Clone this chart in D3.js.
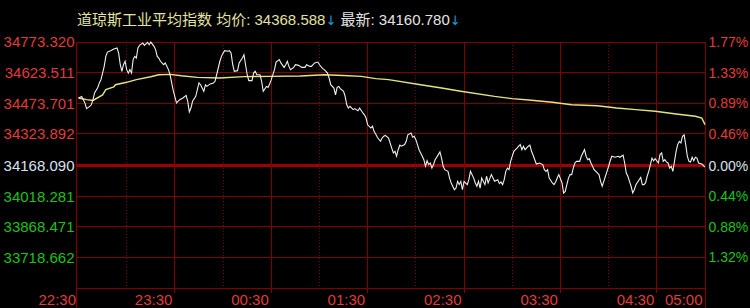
<!DOCTYPE html>
<html>
<head>
<meta charset="utf-8">
<script src="https://cdn.jsdelivr.net/npm/d3@7/dist/d3.min.js"></script>
<style>
  html, body { margin: 0; padding: 0; background: #000; }
  svg { display: block; }
  text { font-family: "Liberation Sans", Arial, "Noto Sans CJK SC", sans-serif; }
  .arrow { font-family: "DejaVu Sans", sans-serif; }
</style>
</head>
<body>
<div id="chart"></div>
<script>
'use strict';

// price axis labels (top to bottom), and the percent labels next to them
var priceLabels = ['34773.320', '34623.511', '34473.701', '34323.892', '34168.090', '34018.281', '33868.471', '33718.662'];
var pctLabels = ['1.77%', '1.33%', '0.89%', '0.46%', '0.00%', '0.44%', '0.88%', '1.32%'];
var prevClose = 34168.090;
var priceLow = 33568.852;
var priceHigh = 34773.320;

// time axis, minutes from 22:30
var hourTicks = [0, 60, 120, 180, 240, 300, 360, 390];
var hourLabels = ['22:30', '23:30', '00:30', '01:30', '02:30', '03:30', '04:30', '05:00'];
var halfTicks = [30, 90, 150, 210, 270, 330];

// header
var title = '道琼斯工业平均指数';
var avgPrice = '34368.588';
var lastPrice = '34160.780';

// price line (minute, value)
var priceMin = [0, 2, 3, 4, 5, 7, 8, 9, 10, 12, 13, 14, 15, 16, 17, 18, 20, 22, 24, 25, 26, 27, 28, 29, 30, 31, 32, 33, 34, 35, 36, 37, 38, 40, 41, 43, 44, 45, 47, 48, 49, 50, 51, 53, 54, 56, 57, 58, 59, 61, 63,
  65, 67, 68, 69, 70, 71, 73, 74, 75, 76, 77, 78, 79, 80, 82, 84, 85, 86, 88, 89, 90, 91, 93, 94, 95, 96, 97, 99, 100, 102, 103, 104, 105, 106, 108, 109, 110, 111, 113, 114, 115, 117, 118, 119, 120, 122, 123, 125, 126, 128,
  129, 130, 131, 132, 134, 135, 137, 139, 141, 142, 144, 145, 147, 149, 150, 152, 153, 155, 156, 157, 159, 160, 161, 162, 163, 165, 166, 167, 168, 169, 171, 172, 174, 175, 177, 178, 179, 180, 182, 183, 184, 185, 186, 188, 189, 190, 191, 193,
  195, 196, 197, 198, 199, 200, 201, 203, 204, 205, 207, 208, 209, 210, 211, 212, 213, 214, 215, 216, 217, 218, 219, 220, 221, 222, 224, 225, 226, 227, 228, 230, 231, 232, 234, 235, 236, 237, 238, 239, 240, 242, 243, 244, 246, 247, 248, 249, 250, 251, 253, 254, 255, 257,
  259, 261, 262, 263, 264, 265, 266, 267, 268, 269, 271, 272, 273, 274, 275, 276, 277, 278, 280, 281, 282, 283, 284, 285, 287, 289, 290, 291, 292, 293, 295, 296, 297, 298, 299, 301, 302, 303, 304, 305, 306, 307, 308, 309, 310, 312, 313, 315, 316, 317, 318, 319, 321,
  324, 325, 326, 327, 328, 329, 330, 331, 332, 334, 336, 337, 339, 340, 341, 342, 343, 344, 345, 346, 347, 349, 350, 351, 352, 353, 354, 355, 356, 357, 358, 359, 361, 362, 363, 364, 365, 366, 367, 368, 369, 370, 371, 372, 373, 374, 375, 376, 377, 378, 379, 380, 381, 382, 383, 384, 385, 386, 388, 390];
var priceVal = [34499, 34507, 34491, 34475, 34447, 34458, 34466, 34491, 34524, 34551, 34573, 34589, 34621, 34654, 34703, 34724, 34731, 34739, 34744, 34719, 34662, 34630, 34662, 34679, 34638, 34621, 34638, 34621, 34687, 34703, 34695, 34744, 34757, 34768, 34757, 34772, 34760, 34773, 34752, 34736, 34703, 34695, 34679, 34662, 34671, 34638, 34613, 34573, 34535, 34475, 34491,
  34499, 34512, 34483, 34431, 34450, 34483, 34507, 34540, 34573, 34564, 34548, 34532, 34564, 34556, 34568, 34573, 34581, 34613, 34679, 34703, 34719, 34731, 34728, 34731, 34719, 34662, 34630, 34633, 34671, 34695, 34711, 34662, 34613, 34584, 34584, 34621, 34630, 34613, 34613, 34581, 34532, 34556, 34551, 34568, 34589, 34638, 34675, 34687, 34671, 34649,
  34662, 34679, 34654, 34638, 34649, 34662, 34659, 34649, 34649, 34662, 34654, 34654, 34671, 34675, 34662, 34643, 34638, 34621, 34597, 34564, 34548, 34515, 34551, 34556, 34545, 34532, 34507, 34466, 34450, 34458, 34442, 34447, 34437, 34450, 34426, 34417, 34401, 34368, 34352, 34361, 34336, 34323, 34307, 34287, 34303, 34312, 34316, 34303,
  34254, 34230, 34238, 34214, 34246, 34268, 34263, 34271, 34287, 34319, 34328, 34307, 34312, 34295, 34271, 34246, 34230, 34214, 34197, 34165, 34192, 34173, 34181, 34156, 34173, 34197, 34222, 34235, 34205, 34165, 34148, 34140, 34107, 34083, 34050, 34058, 34091, 34075, 34091, 34050, 34091, 34075, 34099, 34140, 34107, 34083, 34067, 34091, 34058, 34107, 34075, 34116, 34083, 34124,
  34091, 34099, 34080, 34088, 34075, 34099, 34140, 34156, 34148, 34189, 34238, 34246, 34254, 34263, 34271, 34246, 34263, 34246, 34263, 34268, 34238, 34219, 34197, 34176, 34181, 34173, 34148, 34140, 34148, 34107, 34083, 34075, 34088, 34107, 34124, 34083, 34034, 34042, 34075, 34107, 34124, 34124, 34156, 34181, 34189, 34189, 34214, 34246, 34214, 34197, 34202, 34181, 34148,
  34124, 34091, 34067, 34091, 34116, 34140, 34165, 34192, 34214, 34209, 34214, 34209, 34219, 34181, 34132, 34116, 34091, 34067, 34034, 34050, 34075, 34099, 34111, 34075, 34075, 34083, 34116, 34140, 34173, 34205, 34192, 34202, 34181, 34222, 34230, 34189, 34197, 34186, 34181, 34156, 34165, 34140, 34189, 34238, 34271, 34287, 34279, 34312, 34319, 34271, 34214, 34189, 34186, 34209, 34192, 34209, 34205, 34181, 34176, 34160.78];

// average price line (minute, value)
var avgMin = [0, 5, 9, 15, 17, 22, 23, 30, 36, 45, 50, 57, 64, 74, 88, 103, 119, 138, 153, 165, 176, 185, 193, 213, 226, 238, 259, 270, 282, 295, 307, 323, 335, 347, 359, 372, 384, 388, 390];
var avgVal = [34499, 34491, 34487, 34514, 34540, 34554, 34564, 34576, 34589, 34603, 34613, 34615, 34608, 34600, 34597, 34604, 34605, 34607, 34613, 34609, 34605, 34594, 34589, 34564, 34548, 34532, 34507, 34496, 34488, 34478, 34466, 34461, 34450, 34442, 34434, 34421, 34410, 34401, 34368.588];

var width = 750, height = 308;
var plotLeft = 76.5, plotRight = 705.5, plotTop = 42, plotBottom = 288;

var gridColor = '#800000';
var upColor = '#e23a3a';
var downColor = '#18c418';
var flatColor = '#d6e2ee';

var x = d3.scaleLinear().domain([0, 390]).range([78.5, 705]);
var y = d3.scaleLinear().domain([priceLow, priceHigh]).range([plotBottom, plotTop]);

function crisp(v) { return Math.round(v - 0.5) + 0.5; }

var svg = d3.select('#chart').append('svg')
  .attr('width', width)
  .attr('height', height);

svg.append('rect')
  .attr('width', width)
  .attr('height', height)
  .attr('fill', '#000');

var grid = svg.append('g').attr('shape-rendering', 'crispEdges');

// horizontal grid rows
grid.selectAll('line.row')
  .data(priceLabels.map(Number).concat([priceLow]))
  .enter().append('line')
  .attr('class', 'row')
  .attr('x1', plotLeft)
  .attr('x2', plotRight)
  .attr('y1', function (d) { return crisp(y(d)); })
  .attr('y2', function (d) { return crisp(y(d)); })
  .attr('stroke', gridColor)
  .attr('stroke-width', 1);

// previous close, thick line
grid.append('line')
  .attr('x1', plotLeft)
  .attr('x2', plotRight)
  .attr('y1', crisp(y(prevClose)))
  .attr('y2', crisp(y(prevClose)))
  .attr('stroke', '#9c0000')
  .attr('stroke-width', 3);

// half hour dotted lines
grid.selectAll('line.half')
  .data(halfTicks)
  .enter().append('line')
  .attr('class', 'half')
  .attr('x1', function (d) { return crisp(x(d)); })
  .attr('x2', function (d) { return crisp(x(d)); })
  .attr('y1', plotTop)
  .attr('y2', plotBottom)
  .attr('stroke', gridColor)
  .attr('stroke-dasharray', '1,2');

// hour lines, running a little under the frame
grid.selectAll('line.hour')
  .data(hourTicks.slice(1, -1))
  .enter().append('line')
  .attr('class', 'hour')
  .attr('x1', function (d) { return crisp(x(d)); })
  .attr('x2', function (d) { return crisp(x(d)); })
  .attr('y1', plotTop)
  .attr('y2', plotBottom + 5)
  .attr('stroke', gridColor);

// frame sides go down to the bottom edge
grid.selectAll('line.side')
  .data([plotLeft, plotRight])
  .enter().append('line')
  .attr('class', 'side')
  .attr('x1', function (d) { return d; })
  .attr('x2', function (d) { return d; })
  .attr('y1', plotTop)
  .attr('y2', height)
  .attr('stroke', gridColor);

// value lines
var line = d3.line()
  .x(function (d) { return x(d[0]); })
  .y(function (d) { return y(d[1]); });

svg.append('path')
  .datum(d3.zip(avgMin, avgVal))
  .attr('d', line)
  .attr('fill', 'none')
  .attr('stroke', '#e4e47a')
  .attr('stroke-width', 1.4);

svg.append('path')
  .datum(d3.zip(priceMin, priceVal))
  .attr('d', line)
  .attr('fill', 'none')
  .attr('stroke', '#f0f0f0')
  .attr('stroke-width', 1.1);

// left price labels
function rowColor(i) {
  return i < 4 ? upColor : (i === 4 ? flatColor : downColor);
}

svg.selectAll('text.price')
  .data(priceLabels)
  .enter().append('text')
  .attr('class', 'price')
  .attr('x', plotLeft - 2)
  .attr('y', function (d) { return y(+d); })
  .attr('dy', '0.36em')
  .attr('text-anchor', 'end')
  .attr('font-size', 15)
  .attr('fill', function (d, i) { return rowColor(i); })
  .text(function (d) { return d; });

svg.selectAll('text.pct')
  .data(pctLabels)
  .enter().append('text')
  .attr('class', 'pct')
  .attr('x', plotRight + 3)
  .attr('y', function (d, i) { return y(+priceLabels[i]); })
  .attr('dy', '0.36em')
  .attr('font-size', 14)
  .attr('fill', function (d, i) { return rowColor(i); })
  .text(function (d) { return d; });

// time labels sit left of their line
svg.selectAll('text.time')
  .data(hourTicks)
  .enter().append('text')
  .attr('class', 'time')
  .attr('x', function (d) { return x(d) - 2.5; })
  .attr('y', 304.5)
  .attr('text-anchor', 'end')
  .attr('font-size', 15)
  .attr('fill', upColor)
  .text(function (d, i) { return hourLabels[i]; });

// header
var head = svg.append('text')
  .attr('x', 77)
  .attr('y', 25)
  .attr('font-size', 15)
  .attr('fill', '#e2e2a2');
head.append('tspan').text(title + ' 均价: ' + avgPrice);
head.append('tspan').attr('class', 'arrow').attr('fill', '#1a9ee0').attr('font-size', 13).text('↓');
head.append('tspan').attr('fill', '#e4e4e4').text(' 最新: ' + lastPrice);
head.append('tspan').attr('class', 'arrow').attr('fill', '#1a9ee0').attr('font-size', 13).text('↓');
</script>
</body>
</html>
